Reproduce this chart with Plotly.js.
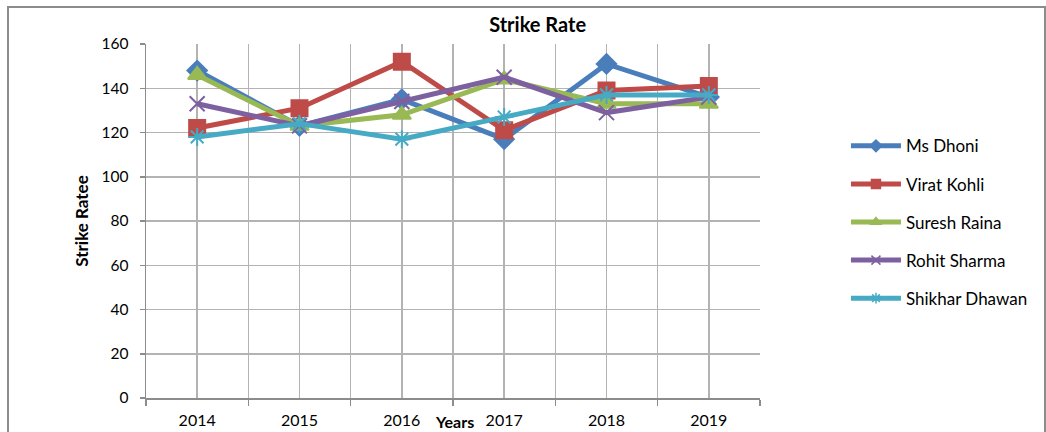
<!DOCTYPE html>
<html>
<head>
<meta charset="utf-8">
<script src="https://cdn.plot.ly/plotly-3.0.1.min.js"></script>
<style>html,body{margin:0;padding:0;background:#fff;}#chart{width:1046px;height:432px;}</style>
</head>
<body>
<div id="chart"></div>
<script>
const years = ["2014", "2015", "2016", "2017", "2018", "2019"];
const msDhoni = [148, 123, 135, 117, 151, 136];
const viratKohli = [122, 131, 152, 121, 139, 141];
const sureshRaina = [146, 123, 128, 144, 133, 133];
const rohitSharma = [133, 123, 134, 145, 129, 136];
const shikharDhawan = [118, 124, 117, 127, 137, 137];
const seriesNames = ["Ms Dhoni", "Virat Kohli", "Suresh Raina", "Rohit Sharma", "Shikhar Dhawan"];
const yTicks = [0, 20, 40, 60, 80, 100, 120, 140, 160];

const idx = years.map((_, i) => i);
const bounds = years.map((_, i) => i - 0.5).concat([years.length - 0.5]);
const styles = [
  {color: "#4a7ebb", symbol: "diamond", size: 15},
  {color: "#be4b48", symbol: "square", size: 16},
  {color: "#98b954", symbol: "triangle-up", size: 16},
  {color: "#7d60a0", symbol: "x-thin-open", size: 15},
  {color: "#46aac5", symbol: "asterisk-open", size: 15}
];
const values = [msDhoni, viratKohli, sureshRaina, rohitSharma, shikharDhawan];
const font = "Lato, 'Open Sans', sans-serif";

const traces = values.map((v, k) => ({
  type: "scatter", mode: "lines+markers",
  x: idx, y: v, name: seriesNames[k], showlegend: false,
  line: {color: styles[k].color, width: 5},
  marker: {color: styles[k].color, symbol: styles[k].symbol, size: styles[k].size,
           line: {color: styles[k].color, width: 2}}
}));
// legend-only entries with small markers
values.forEach((v, k) => traces.push({
  type: "scatter", mode: "lines+markers",
  x: [null], y: [null], name: seriesNames[k], legendgroup: "g" + k,
  line: {color: styles[k].color, width: 5},
  marker: {color: styles[k].color, symbol: styles[k].symbol, size: 9,
           line: {color: styles[k].color, width: 1.5}}
}));
// dummy trace for second x axis (boundary gridlines / ticks)
traces.push({type: "scatter", x: bounds, y: bounds.map(() => null), xaxis: "x2", showlegend: false, hoverinfo: "skip"});

const layout = {
  width: 1046, height: 432,
  margin: {l: 146, r: 286, t: 44, b: 34},
  paper_bgcolor: "#fff", plot_bgcolor: "#fff",
  font: {family: font, size: 16, color: "#000"},
  title: {text: "<b>Strike Rate</b>", x: 0.514, xref: "container", y: 0.942, yref: "container",
          xanchor: "center", yanchor: "middle", font: {family: font, size: 20, color: "#000"}},
  xaxis: {
    range: [-0.5, years.length - 0.5], tickmode: "array", tickvals: idx, ticktext: years,
    showgrid: true, gridcolor: "#b3b3b3", gridwidth: 1.5, ticks: "", showline: false,
    zeroline: false, ticklabelstandoff: 11, tickfont: {size: 16, family: font}
  },
  xaxis2: {
    overlaying: "x", range: [-0.5, years.length - 0.5], tickmode: "array", tickvals: bounds,
    showticklabels: false, showgrid: true, gridcolor: "#b3b3b3", gridwidth: 1.5,
    ticks: "outside", ticklen: 6, tickcolor: "#8c8c8c", tickwidth: 1.5,
    showline: true, linecolor: "#8c8c8c", linewidth: 1.5, zeroline: false, anchor: "y", side: "bottom"
  },
  yaxis: {
    range: [0, 160], tickmode: "array", tickvals: yTicks,
    showgrid: true, gridcolor: "#b3b3b3", gridwidth: 1.5,
    ticks: "outside", ticklen: 5, tickcolor: "#8c8c8c", tickwidth: 1.5,
    showline: true, linecolor: "#8c8c8c", linewidth: 1.5, zeroline: false,
    ticklabelstandoff: 8, tickfont: {size: 15.5, family: font},
    title: {text: "<b>Strike Ratee</b>", standoff: 8, font: {size: 17, family: font}}
  },
  legend: {
    x: 1.14, xanchor: "left", y: 0.762, yanchor: "top",
    font: {size: 17, family: font}, tracegroupgap: 13, itemwidth: 50,
    bgcolor: "rgba(0,0,0,0)"
  },
  annotations: [{
    text: "<b>Years</b>", xref: "paper", yref: "paper", x: 0.503, y: -0.066,
    xanchor: "center", yanchor: "middle", showarrow: false, font: {size: 16, family: font}
  }],
  shapes: [{
    type: "rect", xref: "paper", yref: "paper",
    x0: (8 - 146) / 614, x1: (1045 - 146) / 614, y0: -0.3, y1: (398 - 7) / 354,
    line: {color: "#8c8c8c", width: 2}, fillcolor: "rgba(0,0,0,0)", layer: "below"
  }]
};

Plotly.newPlot("chart", traces, layout, {displayModeBar: false, staticPlot: true});
</script>
</body>
</html>
